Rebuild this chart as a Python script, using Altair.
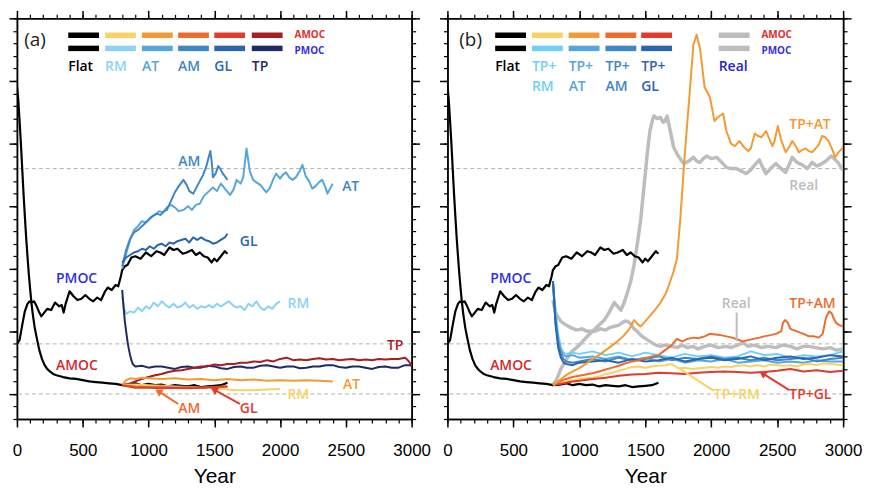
import altair as alt
import pandas as pd

# ---------------- axes ticks / reference levels ----------------
X_MAJOR = list(range(0, 3001, 500))
X_MINOR = list(range(0, 3001, 100))
Y_MAJOR = list(range(0, 31, 5))
Y_MINOR = list(range(-2, 31, 1))
REF_LEVELS = [0, 4, 18]

# ---------------- series: [year, value] ----------------
FLAT_AMOC = [[0,24.6],[10,23.5],[20,21.8],[30,20.0],[40,18.0],[50,16.0],[60,14.2],[70,12.5],[80,11.0],[90,9.6],
             [100,8.4],[110,7.3],[120,6.4],[135,5.3],[150,4.5],[170,3.5],[190,2.8],[210,2.3],[230,2.0],[250,1.8],
             [275,1.6],[300,1.5],[350,1.35],[400,1.25],[450,1.2],[500,1.1],[550,1.0],[600,0.95],[650,0.9],[700,0.85],
             [750,0.8],[800,0.7],[850,0.75],[900,0.85],[950,0.7],[1000,0.8],[1050,0.7],[1100,0.75],[1150,0.6],[1200,0.7],
             [1250,0.65],[1300,0.6],[1350,0.7],[1400,0.55],[1450,0.6],[1500,0.65],[1550,0.7],[1600,0.9]]
FLAT_PMOC = [[0,4.0],[20,4.3],[40,5.5],[60,6.6],[80,7.2],[95,7.4],[110,7.3],[130,7.4],[150,7.0],[170,6.5],
             [185,6.2],[200,6.4],[230,6.8],[260,6.7],[290,7.3],[320,7.0],[340,7.1],[355,6.5],[370,7.2],[400,8.2],
             [430,7.8],[460,7.5],[490,7.6],[520,7.9],[550,7.6],[580,7.4],[610,7.7],[640,7.5],[670,8.2],[690,8.5],
             [720,8.3],[750,8.7],[770,8.6],[790,9.4],[800,9.9],[820,10.2],[840,10.3],[870,10.9],[900,11.0],[940,10.8],
             [980,11.3],[1020,11.0],[1060,11.4],[1090,11.3],[1120,11.1],[1160,11.7],[1190,11.5],[1220,11.6],[1260,11.2],[1290,11.3],
             [1330,11.5],[1360,11.1],[1390,11.3],[1420,11.0],[1450,10.9],[1480,10.5],[1500,10.8],[1520,10.6],[1550,11.0],[1580,11.4],
             [1600,11.2]]

# panel (a) PMOC
A_RM_PMOC = [[800,7.8],[815,6.8],[830,6.4],[860,6.6],[890,6.5],[920,6.9],[950,6.6],[980,7.0],[1010,6.8],[1040,7.3],
             [1070,7.0],[1100,7.4],[1130,7.1],[1160,6.9],[1190,7.2],[1220,6.9],[1250,7.0],[1280,7.3],[1310,6.9],[1340,7.1],
             [1370,6.8],[1400,7.0],[1430,6.9],[1460,7.1],[1490,6.9],[1520,7.2],[1550,7.0],[1580,7.2],[1610,7.4],[1640,7.1],
             [1670,6.9],[1700,7.0],[1730,6.7],[1760,7.2],[1790,7.0],[1820,7.4],[1850,6.9],[1880,6.7],[1910,7.0],[1940,6.8],
             [1970,7.2],[2000,7.4]]
A_AT_PMOC = [[800,10.0],[830,11.2],[860,12.3],[890,13.1],[920,13.4],[950,13.8],[980,13.7],[1015,14.1],[1050,14.3],[1080,14.6],
             [1110,14.5],[1140,14.9],[1170,15.1],[1200,14.9],[1230,14.6],[1265,14.7],[1300,15.0],[1330,14.7],[1360,15.1],[1390,15.2],
             [1420,15.8],[1450,16.1],[1490,16.5],[1520,16.2],[1550,16.8],[1580,16.4],[1620,15.9],[1645,16.3],[1670,17.1],[1700,16.8],
             [1720,17.3],[1745,19.6],[1770,17.8],[1795,17.1],[1820,16.9],[1850,16.7],[1880,16.3],[1895,16.1],[1920,16.4],[1950,17.2],
             [1970,17.6],[2000,17.2],[2020,17.5],[2045,17.7],[2070,17.3],[2095,17.1],[2120,17.3],[2150,17.8],[2170,18.3],[2195,17.4],
             [2220,17.0],[2245,16.4],[2270,16.6],[2295,16.9],[2320,17.1],[2345,16.5],[2360,16.0],[2380,16.4],[2400,16.8]]
A_AM_PMOC = [[800,10.2],[830,11.5],[860,12.4],[890,12.9],[920,13.1],[940,13.3],[970,13.6],[1000,13.9],[1030,14.2],[1060,14.4],
             [1090,14.3],[1120,14.6],[1140,14.7],[1170,15.4],[1200,16.1],[1230,16.6],[1265,17.1],[1290,16.7],[1310,16.2],[1340,16.0],
             [1370,16.6],[1400,17.2],[1415,17.5],[1440,18.2],[1470,19.4],[1480,18.6],[1490,17.3],[1510,17.6],[1530,18.2],[1545,18.0],
             [1565,17.6],[1580,17.4],[1600,17.1]]
A_GL_PMOC = [[800,10.5],[830,10.9],[860,11.1],[890,11.3],[920,11.4],[950,11.6],[980,11.5],[1010,11.8],[1040,11.6],[1070,11.9],
             [1100,12.0],[1130,11.8],[1160,12.1],[1190,12.0],[1220,12.2],[1250,12.3],[1280,12.4],[1310,12.1],[1340,12.5],[1370,12.3],
             [1400,12.5],[1430,12.3],[1460,12.2],[1490,12.0],[1520,12.1],[1550,12.3],[1580,12.5],[1600,12.8]]
A_TP_PMOC = [[800,8.3],[810,7.0],[820,5.8],[830,5.0],[840,4.2],[850,3.6],[860,3.1],[870,2.7],[880,2.4],[900,2.2],
             [950,2.25],[1000,2.1],[1050,2.2],[1100,2.2],[1150,2.1],[1200,2.0],[1250,2.15],[1300,2.2],[1350,2.1],[1400,2.1],
             [1450,2.25],[1500,2.2],[1550,2.05],[1600,2.0],[1650,2.15],[1700,2.2],[1750,2.1],[1800,2.1],[1850,2.25],[1900,2.3],
             [1950,2.2],[2000,2.1],[2050,2.2],[2100,2.2],[2150,2.05],[2200,2.1],[2250,2.2],[2300,2.2],[2350,2.3],[2400,2.3],
             [2450,2.15],[2500,2.1],[2550,2.2],[2600,2.2],[2650,2.1],[2700,2.0],[2750,2.15],[2800,2.2],[2850,2.1],[2900,2.1],
             [2950,2.3],[3000,2.3]]
# panel (a) AMOC
A_TP_AMOC = [[800,0.7],[850,0.8],[900,1.0],[950,1.2],[1000,1.35],[1050,1.5],[1100,1.6],[1150,1.75],[1200,1.85],[1250,1.9],
             [1300,2.0],[1350,2.1],[1400,2.2],[1450,2.2],[1500,2.35],[1550,2.3],[1600,2.4],[1650,2.4],[1700,2.5],[1750,2.5],
             [1800,2.6],[1850,2.55],[1900,2.7],[1950,2.6],[2000,2.8],[2050,2.9],[2100,2.7],[2150,2.75],[2200,2.7],[2250,2.8],
             [2300,2.85],[2350,2.75],[2400,2.8],[2450,2.7],[2500,2.75],[2550,2.8],[2600,2.7],[2650,2.75],[2700,2.7],[2750,2.8],
             [2800,2.75],[2850,2.8],[2900,2.8],[2950,2.9],[2980,2.6],[3000,2.2]]
A_AT_AMOC = [[800,0.7],[830,1.1],[860,1.25],[900,1.2],[950,1.3],[1000,1.25],[1100,1.2],[1200,1.25],[1300,1.15],[1400,1.2],
             [1500,1.1],[1600,1.2],[1700,1.1],[1800,1.15],[1900,1.05],[2000,1.1],[2100,1.05],[2200,1.1],[2300,1.05],[2400,1.0]]
A_RM_AMOC = [[800,0.7],[900,0.75],[1000,0.7],[1100,0.65],[1200,0.6],[1300,0.55],[1400,0.5],[1500,0.45],[1600,0.35],
             [1700,0.3],[1800,0.3],[1900,0.35],[2000,0.4]]
A_AM_AMOC = [[800,0.7],[900,0.6],[1000,0.55],[1100,0.6],[1200,0.5],[1300,0.55],[1400,0.5],[1500,0.55],[1600,0.6]]
A_GL_AMOC = [[800,0.7],[900,0.5],[1000,0.5],[1100,0.45],[1200,0.5],[1300,0.45],[1400,0.5],[1500,0.55],[1600,0.6]]

# panel (b) PMOC
B_RM_PMOC = [[800,9.0],[820,6.5],[840,4.8],[860,3.7],[880,3.3],[900,3.2],[950,3.3],[1000,3.2],[1100,3.4],[1200,3.1],
             [1300,3.3],[1400,3.0],[1500,3.3],[1600,3.1],[1700,2.9],[1800,3.2],[1900,3.0],[2000,3.1],[2100,2.9],[2200,3.0],
             [2300,3.4],[2400,3.1],[2500,3.2],[2600,2.9],[2700,3.1],[2800,3.0],[2900,3.1],[3000,3.4]]
B_AT_PMOC = [[800,9.0],[820,6.0],[840,4.3],[860,3.5],[880,3.1],[900,3.0],[950,3.1],[1000,2.9],[1100,3.0],[1200,2.8],
             [1300,3.0],[1400,2.7],[1500,2.9],[1600,2.6],[1700,2.8],[1800,2.5],[1900,2.7],[2000,2.6],[2100,2.8],[2200,2.5],
             [2300,2.6],[2400,2.7],[2500,2.5],[2600,2.6],[2700,2.5],[2800,2.7],[2900,2.6],[3000,2.6]]
B_AM_PMOC = [[800,9.0],[820,5.8],[840,4.0],[860,3.2],[880,2.8],[900,2.6],[950,2.5],[1000,2.6],[1100,2.8],[1200,2.6],
             [1300,2.9],[1400,2.7],[1500,2.8],[1600,3.0],[1700,2.7],[1800,2.9],[1900,2.8],[2000,3.0],[2100,2.8],[2200,2.9],
             [2300,2.7],[2400,2.9],[2500,2.7],[2600,2.8],[2700,2.9],[2800,2.6],[2900,2.8],[3000,2.9]]
B_GL_PMOC = [[800,9.0],[820,5.5],[840,3.7],[860,2.9],[880,2.5],[900,2.4],[950,2.3],[1000,2.5],[1100,2.6],[1200,2.7],
             [1300,2.5],[1400,2.8],[1500,2.6],[1600,2.7],[1700,2.9],[1800,2.6],[1900,2.8],[2000,2.9],[2100,2.7],[2200,2.8],
             [2300,3.0],[2400,2.7],[2500,2.9],[2600,3.0],[2700,2.8],[2800,2.9],[2900,3.1],[3000,3.0]]
B_REAL_PMOC = [[800,7.5],[820,6.5],[840,6.1],[860,5.8],[900,5.5],[935,5.3],[980,5.1],[1020,5.2],[1060,5.0],[1115,5.0],
               [1160,5.2],[1200,5.1],[1230,5.3],[1265,5.4],[1300,5.5],[1340,5.8],[1365,5.8],[1390,5.6],[1415,5.2],[1440,5.0],
               [1465,4.7],[1490,4.5],[1520,4.3],[1550,4.1],[1580,3.9],[1615,3.8],[1650,3.9],[1700,3.8],[1740,3.7],[1780,3.9],
               [1820,3.7],[1860,3.8],[1900,3.6],[1950,3.8],[2000,3.9],[2050,3.7],[2115,3.8],[2150,3.7],[2200,3.9],[2240,4.1],
               [2280,3.8],[2330,3.9],[2380,3.7],[2430,3.8],[2490,3.7],[2540,3.9],[2600,3.8],[2650,3.6],[2700,3.8],[2740,3.8],
               [2790,3.7],[2850,3.6],[2900,3.7],[2950,3.5],[3000,3.6]]
# panel (b) AMOC
B_RM_AMOC = [[800,0.7],[850,0.9],[900,1.0],[950,1.1],[1000,1.2],[1050,1.25],[1100,1.3],[1150,1.4],[1200,1.6],[1250,1.7],
             [1300,1.85],[1350,2.0],[1400,2.15],[1450,2.2],[1500,2.1],[1550,2.2],[1600,2.25],[1650,2.3],[1700,2.4],[1750,2.05],
             [1800,2.1],[1850,2.0],[1900,2.05],[1950,2.1],[2000,2.15],[2050,2.1],[2100,2.2],[2150,2.15],[2200,2.25],[2250,2.3],
             [2300,2.2],[2350,2.3],[2400,2.2],[2450,2.35],[2500,2.3],[2550,2.25],[2600,2.3],[2650,2.2],[2700,2.35],[2750,2.4],
             [2800,2.3],[2850,2.45],[2900,2.4],[2950,2.35],[3000,2.3]]
B_AT_AMOC = [[800,0.7],[850,1.1],[900,1.5],[950,1.8],[990,2.0],[1050,2.4],[1100,2.8],[1150,3.1],[1200,3.5],[1240,3.8],
             [1290,4.2],[1340,4.7],[1380,5.2],[1415,5.9],[1440,5.6],[1465,5.4],[1500,5.8],[1540,6.3],[1580,6.8],[1615,7.3],
             [1650,7.9],[1680,8.7],[1715,9.8],[1740,10.8],[1765,13.9],[1800,19.2],[1840,24.5],[1865,27.9],[1890,28.7],[1915,27.6],
             [1950,24.5],[1990,23.7],[2025,21.8],[2050,22.1],[2090,22.4],[2115,21.0],[2150,20.0],[2180,19.8],[2215,20.2],[2250,19.7],
             [2280,19.4],[2300,19.6],[2330,20.8],[2355,20.6],[2380,20.5],[2415,21.0],[2440,20.4],[2465,19.8],[2480,20.2],[2505,21.4],
             [2530,20.3],[2565,19.3],[2590,19.7],[2615,20.2],[2640,19.8],[2665,19.3],[2690,19.5],[2715,19.6],[2740,19.4],[2765,19.3],
             [2790,19.6],[2815,19.9],[2840,20.6],[2865,20.5],[2890,20.2],[2915,19.6],[2940,18.9],[2965,19.3],[3000,19.7]]
B_AM_AMOC = [[800,0.7],[850,1.0],[900,1.2],[950,1.35],[1000,1.45],[1050,1.55],[1100,1.65],[1150,1.8],[1200,1.95],[1250,2.1],
             [1300,2.25],[1350,2.45],[1400,2.6],[1450,2.7],[1500,2.85],[1550,3.0],[1600,3.1],[1650,3.5],[1700,3.9],[1740,4.4],
             [1780,4.2],[1820,4.4],[1865,4.5],[1900,4.45],[1950,4.6],[1990,4.8],[2030,4.75],[2070,4.7],[2115,4.6],[2160,4.5],
             [2200,4.35],[2240,4.2],[2280,4.3],[2320,4.4],[2365,4.5],[2400,4.6],[2450,4.7],[2490,4.8],[2530,5.0],[2545,5.7],
             [2560,5.9],[2580,5.7],[2600,5.2],[2650,5.0],[2700,4.8],[2740,4.6],[2780,4.6],[2815,4.5],[2845,4.8],[2870,6.1],
             [2895,6.6],[2915,6.4],[2930,6.0],[2945,5.7],[2970,5.5],[3000,5.4]]
B_GL_AMOC = [[800,0.7],[850,0.8],[900,0.9],[950,1.0],[1000,1.05],[1100,1.2],[1200,1.3],[1300,1.45],[1400,1.55],[1500,1.6],
             [1600,1.7],[1700,1.65],[1800,1.6],[1900,1.7],[2000,1.75],[2100,1.8],[2200,1.75],[2300,1.7],[2400,1.75],[2500,1.85],
             [2600,2.0],[2700,1.8],[2800,1.9],[2900,1.75],[3000,1.85]]
B_REAL_AMOC = [[800,0.7],[830,1.2],[860,2.0],[900,2.7],[935,3.3],[1000,3.9],[1060,4.6],[1120,5.2],[1190,5.9],[1230,6.6],
               [1265,7.3],[1290,7.0],[1315,6.7],[1340,7.3],[1365,8.1],[1390,9.0],[1415,10.3],[1440,12.0],[1465,13.9],[1490,16.5],
               [1515,19.2],[1535,21.0],[1553,21.8],[1565,22.2],[1590,22.0],[1615,22.1],[1635,21.7],[1650,21.8],[1665,22.2],[1690,21.0],
               [1715,19.7],[1750,19.0],[1790,18.4],[1830,18.6],[1865,18.9],[1890,18.6],[1915,18.5],[1940,18.8],[1965,19.0],[2000,18.8],
               [2040,18.9],[2080,18.5],[2115,18.1],[2150,18.0],[2190,18.0],[2230,17.8],[2265,17.6],[2300,17.9],[2330,18.3],[2365,18.7],
               [2390,18.1],[2415,17.6],[2450,18.0],[2490,18.4],[2530,18.0],[2565,17.7],[2590,18.3],[2615,18.9],[2650,18.5],[2690,18.3],
               [2730,18.0],[2765,18.5],[2800,18.2],[2840,18.4],[2870,18.6],[2910,19.0],[2940,18.7],[2960,18.5],[2985,18.1],[3000,17.9]]

# ---------------- legend & annotation content ----------------
A_LEG_START = [390, 670, 950, 1225, 1500, 1785]
A_LEG_NAMES = ["Flat", "RM", "AT", "AM", "GL", "TP"]
B_LEG_START = [362, 641, 919, 1198, 1469, 2057]
B_LEG_NAMES1 = ["Flat", "TP+", "TP+", "TP+", "TP+", "Real"]
B_LEG_NAMES2 = ["", "RM", "AT", "AM", "GL", ""]
LEG_ROWS = [28.65, 27.6]          # AMOC row, PMOC row
LEG_TEXT_ROWS = [26.1, 24.5]
A_MOC_TAG_YEAR = 2110
B_MOC_TAG_YEAR = 2381

A_LABELS = [("AM", 1226, 18.5), ("AT", 2472, 16.5), ("GL", 1694, 12.1), ("PMOC", 297, 9.2),
            ("RM", 2057, 7.2), ("TP", 2812, 3.8), ("AMOC", 297, 2.2), ("AT", 2479, 0.7),
            ("RM", 2057, -0.1), ("AM", 1226, -1.2), ("GL", 1694, -1.2)]
B_LABELS = [("TP+AT", 2592, 21.5), ("Real", 2592, 16.6), ("PMOC", 324, 9.2), ("Real", 2080, 7.2),
            ("TP+AM", 2592, 7.2), ("AMOC", 324, 2.2), ("TP+RM", 2020, -0.1), ("TP+GL", 2592, -0.1)]
A_ARROWS = [(1226, -0.8, 1083, 0.16, 302), (1694, -0.8, 1505, 0.3, 299)]
B_ARROWS = [(2592, 0.3, 2396, 1.6, 302)]
B_POINTERS = [(2193, 6.5, 2193, 4.2), (2020, 0.24, 1763, 2.0)]

# ---------------- styles ----------------
BLACK = "#000000"
AMOC_C = {"RM": "#f9d266", "AT": "#f39a32", "AM": "#ee6b2d", "GL": "#e23b2b", "TP": "#a81c22"}
PMOC_C = {"RM": "#8dd2f2", "AT": "#56a6dc", "AM": "#3f86c6", "GL": "#2b64b0", "TP": "#1f2b63"}
B_PMOC_C = {"RM": "#6fcff5", "AT": "#56a6dc", "AM": "#3f86c6", "GL": "#2b64b0"}
GRAY = "#bdbdbd"
BLUE_TXT = "#2f2fe0"
RED_TXT = "#d9262b"
A_LABEL_COLORS = ["#3f86c6", "#3f86c6", "#2b64b0", BLUE_TXT, PMOC_C["RM"], AMOC_C["TP"], RED_TXT,
                  AMOC_C["AT"], AMOC_C["RM"], AMOC_C["AM"], AMOC_C["GL"]]
B_LABEL_COLORS = [AMOC_C["AT"], GRAY, BLUE_TXT, GRAY, AMOC_C["AM"], RED_TXT, AMOC_C["RM"], AMOC_C["GL"]]
A_ARROW_COLORS = [AMOC_C["AM"], AMOC_C["GL"]]
B_ARROW_COLORS = [AMOC_C["GL"]]
B_POINTER_COLORS = [GRAY, AMOC_C["RM"]]
SEG_LEN = 234
FONT = "Open Sans"
AX_FONT = "Liberation Sans"

XS = alt.Scale(domain=[0, 3000], nice=False, zero=False)
YS = alt.Scale(domain=[-2, 30], nice=False, zero=False)


def X(field="year"):
    return alt.X(f"{field}:Q", scale=XS, axis=None)


def Y(field="value"):
    return alt.Y(f"{field}:Q", scale=YS, axis=None)


def line(pairs, color, width=2.0):
    df = pd.DataFrame(pairs, columns=["year", "value"])
    return alt.Chart(df).mark_line(color=color, strokeWidth=width, strokeJoin="round", clip=True).encode(
        x=X(), y=Y())


def ref_rules():
    return alt.Chart(pd.DataFrame({"value": REF_LEVELS})).mark_rule(
        color="#b0b0b0", strokeDash=[4, 3], strokeWidth=1).encode(y=Y())


def legend_segments(starts, amoc_cols, pmoc_cols):
    rows = []
    for s, ca, cp in zip(starts, amoc_cols, pmoc_cols):
        rows.append({"year": s, "year2": s + SEG_LEN, "value": LEG_ROWS[0], "color": ca})
        rows.append({"year": s, "year2": s + SEG_LEN, "value": LEG_ROWS[1], "color": cp})
    return alt.Chart(pd.DataFrame(rows)).mark_rule(strokeWidth=5.5, strokeCap="butt").encode(
        x=X(), x2="year2:Q", y=Y(), color=alt.Color("color:N", scale=None))


def texts(rows, size=14, weight=600, font=FONT):
    df = pd.DataFrame(rows, columns=["text", "year", "value", "color"])
    return alt.Chart(df).mark_text(align="left", baseline="middle", font=font, fontSize=size,
                                   fontWeight=weight).encode(
        x=X(), y=Y(), text="text:N", color=alt.Color("color:N", scale=None))


def arrows(items, colors, heads=True):
    rows = []
    for (x1, y1, x2, y2, *ang), c in zip(items, colors):
        rows.append({"year": x1, "value": y1, "year2": x2, "value2": y2, "color": c,
                     "ang": ang[0] if ang else 0})
    df = pd.DataFrame(rows)
    shaft = alt.Chart(df).mark_rule(strokeWidth=2).encode(
        x=X(), y=Y(), x2="year2:Q", y2="value2:Q", color=alt.Color("color:N", scale=None))
    if not heads:
        return [shaft]
    head = alt.Chart(df).mark_point(shape="triangle", filled=True, size=70, opacity=1).encode(
        x=X("year2"), y=Y("value2"), angle=alt.Angle("ang:Q", scale=None),
        color=alt.Color("color:N", scale=None))
    return [shaft, head]


AX_DF = pd.DataFrame({"year": [0, 3000], "value": [-2, 30]})


def axis_layer(xo, yo, major):
    base = dict(grid=False, domainColor="black", domainWidth=1.5, tickColor="black",
                tickWidth=1.5 if major else 1.2, tickSize=8 if major else 4)
    if major and xo == "bottom":
        xa = alt.Axis(orient=xo, values=X_MAJOR, labels=True, format="d", labelFont=AX_FONT, labelFontSize=17,
                      labelColor="black", labelPadding=16, labelFlush=False, labelOverlap=False,
                      title="Year", titleFont=AX_FONT, titleFontSize=21, titleFontWeight="normal",
                      titleColor="black", titlePadding=7, **base)
    else:
        xa = alt.Axis(orient=xo, values=X_MAJOR if major else X_MINOR, labels=False, title=None, **base)
    ya = alt.Axis(orient=yo, values=Y_MAJOR if major else Y_MINOR, labels=False, title=None, **base)
    return alt.Chart(AX_DF).mark_point(opacity=0).encode(
        x=alt.X("year:Q", scale=XS, axis=xa), y=alt.Y("value:Q", scale=YS, axis=ya))


AXES = [axis_layer("bottom", "left", True), axis_layer("bottom", "left", False),
        axis_layer("top", "right", True), axis_layer("top", "right", False)]

# ---------------- panel (a) ----------------
a_layers = [ref_rules(),
            line(FLAT_PMOC, BLACK, 2.2), line(FLAT_AMOC, BLACK, 2.2),
            line(A_RM_PMOC, PMOC_C["RM"]), line(A_AT_PMOC, PMOC_C["AT"]), line(A_AM_PMOC, PMOC_C["AM"]),
            line(A_GL_PMOC, PMOC_C["GL"]), line(A_TP_PMOC, PMOC_C["TP"]),
            line(A_TP_AMOC, AMOC_C["TP"]), line(A_AT_AMOC, AMOC_C["AT"]), line(A_RM_AMOC, AMOC_C["RM"]),
            line(A_AM_AMOC, AMOC_C["AM"]), line(A_GL_AMOC, AMOC_C["GL"]),
            legend_segments(A_LEG_START, [BLACK] + [AMOC_C[k] for k in A_LEG_NAMES[1:]],
                            [BLACK] + [PMOC_C[k] for k in A_LEG_NAMES[1:]]),
            texts([(n, s, LEG_TEXT_ROWS[0], c) for n, s, c in
                   zip(A_LEG_NAMES, A_LEG_START, [BLACK] + [PMOC_C[k] for k in A_LEG_NAMES[1:]])]),
            texts([("AMOC", A_MOC_TAG_YEAR, LEG_ROWS[0], "#e0302d"),
                   ("PMOC", A_MOC_TAG_YEAR, LEG_ROWS[1] - 0.2, "#3a2fe0")], size=10, weight="bold"),
            texts([("(a)", 55, 28.3, "#222222")], size=19, weight="normal"),
            texts([(t, x, y, c) for (t, x, y), c in zip(A_LABELS, A_LABEL_COLORS)]),
            *arrows(A_ARROWS, A_ARROW_COLORS),
            *AXES]
panel_a = alt.layer(*a_layers).properties(width=397, height=403).resolve_axis(x="independent", y="independent")

# ---------------- panel (b) ----------------
b_names = ["RM", "AT", "AM", "GL"]
b_layers = [ref_rules(),
            line(B_REAL_PMOC, GRAY, 3.5), line(B_REAL_AMOC, GRAY, 3.5),
            line(FLAT_PMOC, BLACK, 2.2), line(FLAT_AMOC, BLACK, 2.2),
            line(B_RM_PMOC, B_PMOC_C["RM"]), line(B_AT_PMOC, B_PMOC_C["AT"]), line(B_AM_PMOC, B_PMOC_C["AM"]),
            line(B_GL_PMOC, B_PMOC_C["GL"]),
            line(B_RM_AMOC, AMOC_C["RM"]), line(B_GL_AMOC, AMOC_C["GL"]), line(B_AM_AMOC, AMOC_C["AM"]),
            line(B_AT_AMOC, AMOC_C["AT"]),
            legend_segments(B_LEG_START, [BLACK] + [AMOC_C[k] for k in b_names] + [GRAY],
                            [BLACK] + [B_PMOC_C[k] for k in b_names] + [GRAY]),
            texts([(n, s, LEG_TEXT_ROWS[0], c) for n, s, c in
                   zip(B_LEG_NAMES1, B_LEG_START, [BLACK] + [B_PMOC_C[k] for k in b_names] + ["#2323d4"])]),
            texts([(n, s, LEG_TEXT_ROWS[1], c) for n, s, c in
                   zip(B_LEG_NAMES2, B_LEG_START, [BLACK] + [B_PMOC_C[k] for k in b_names] + [BLACK]) if n]),
            texts([("AMOC", B_MOC_TAG_YEAR, LEG_ROWS[0], "#e0302d"),
                   ("PMOC", B_MOC_TAG_YEAR, LEG_ROWS[1] - 0.2, "#3a2fe0")], size=10, weight="bold"),
            texts([("(b)", 90, 28.3, "#222222")], size=19, weight="normal"),
            texts([(t, x, y, c) for (t, x, y), c in zip(B_LABELS, B_LABEL_COLORS)]),
            *arrows(B_ARROWS, B_ARROW_COLORS),
            *arrows(B_POINTERS, B_POINTER_COLORS, heads=False),
            *AXES]
panel_b = alt.layer(*b_layers).properties(width=398, height=403).resolve_axis(x="independent", y="independent")

chart = alt.hconcat(panel_a, panel_b, spacing=36, bounds="flush").properties(
    padding={"left": 0, "top": 0, "right": 0, "bottom": 0}
).configure_view(stroke=None)

chart.save("out.html", embed_options={"renderer": "svg", "actions": False})
